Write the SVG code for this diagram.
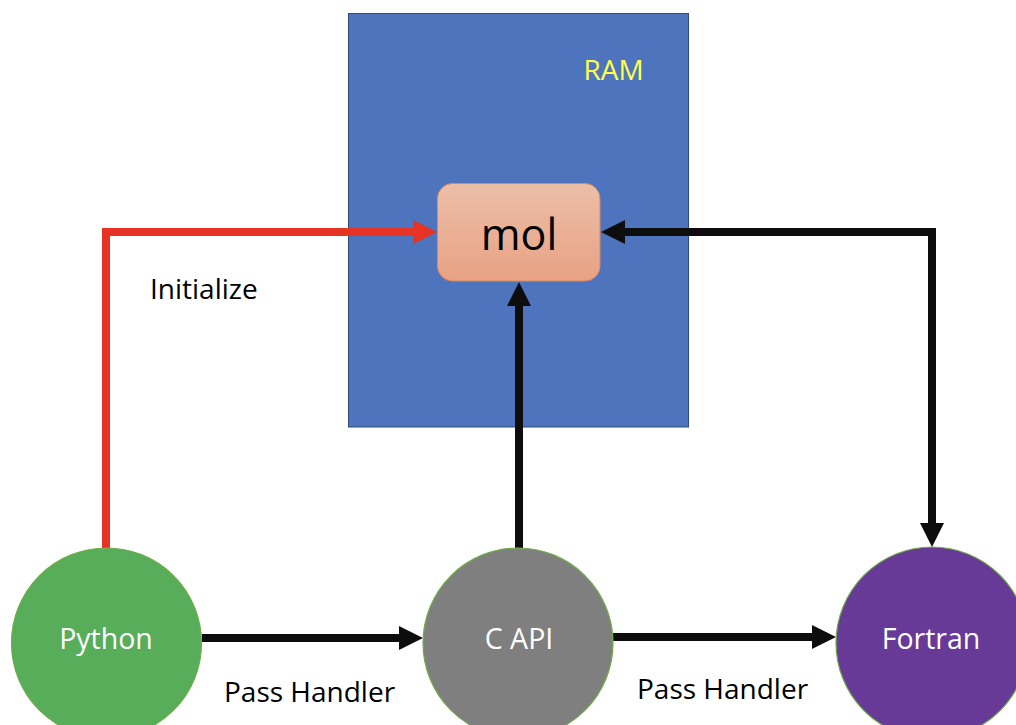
<svg xmlns="http://www.w3.org/2000/svg" width="1016" height="725" viewBox="0 0 1016 725">
<style>
  text { font-family: "Open Sans", "Liberation Sans", sans-serif; }
  .lbl { font-size: 28px; fill: #000; }
  .node-txt { font-size: 28.5px; fill: #fff; text-anchor: middle; }
  .conn { fill: none; stroke-width: 8; }
  .blk { stroke: #0d0d0d; }
  .red { stroke: #e63323; }
  .circ { stroke: #70ad47; stroke-width: 1.2; }
</style>
<defs>
  <linearGradient id="molGrad" x1="0" y1="0" x2="0" y2="1">
    <stop offset="0" stop-color="#ecbea8"/>
    <stop offset="1" stop-color="#e8a283"/>
  </linearGradient>
  <marker id="ahBlk" viewBox="0 0 24 24" refX="2" refY="12" markerWidth="24" markerHeight="24" markerUnits="userSpaceOnUse" orient="auto-start-reverse">
    <path d="M0,0 L24,12 L0,24 z" fill="#0d0d0d"/>
  </marker>
  <marker id="ahRed" viewBox="0 0 24 24" refX="2" refY="12" markerWidth="24" markerHeight="24" markerUnits="userSpaceOnUse" orient="auto-start-reverse">
    <path d="M0,0 L24,12 L0,24 z" fill="#e63323"/>
  </marker>
</defs>
<rect width="1016" height="725" fill="#fff"/>

<g id="ram">
  <rect x="348.5" y="13.5" width="340" height="413.5" fill="#4e74be" stroke="#2f4b7c" stroke-width="1"/>
  <text x="613.5" y="80" class="lbl" style="fill:#ffff4d" text-anchor="middle">RAM</text>
</g>

<g id="mol">
  <rect x="437.5" y="183.5" width="162.5" height="97.5" rx="15" ry="15" fill="url(#molGrad)" stroke="#d9895f" stroke-width="1"/>
  <text x="519" y="250" text-anchor="middle" style="font-size:43px;fill:#000">mol</text>
</g>

<g id="connectors">
  <path class="conn red" d="M106,548 V232 H415" marker-end="url(#ahRed)"/>
  <path class="conn blk" d="M623,232 H932 V525" marker-start="url(#ahBlk)" marker-end="url(#ahBlk)"/>
  <path class="conn blk" d="M519,548 V304" marker-end="url(#ahBlk)"/>
  <path class="conn blk" d="M202,638 H401" marker-end="url(#ahBlk)"/>
  <path class="conn blk" d="M613,637 H814" marker-end="url(#ahBlk)"/>
  <text x="150" y="299" class="lbl">Initialize</text>
  <text x="224" y="702" class="lbl">Pass Handler</text>
  <text x="637" y="699" class="lbl">Pass Handler</text>
</g>

<g id="python">
  <circle cx="106.5" cy="643" r="95" fill="#57ad5a" class="circ"/>
  <text x="106" y="649" class="node-txt">Python</text>
</g>

<g id="capi">
  <circle cx="518" cy="643" r="95" fill="#7f7f7f" class="circ"/>
  <text x="519" y="649" class="node-txt">C API</text>
</g>

<g id="fortran">
  <circle cx="932" cy="643" r="96" fill="#663a96" class="circ"/>
  <text x="931" y="649" class="node-txt">Fortran</text>
</g>
</svg>
